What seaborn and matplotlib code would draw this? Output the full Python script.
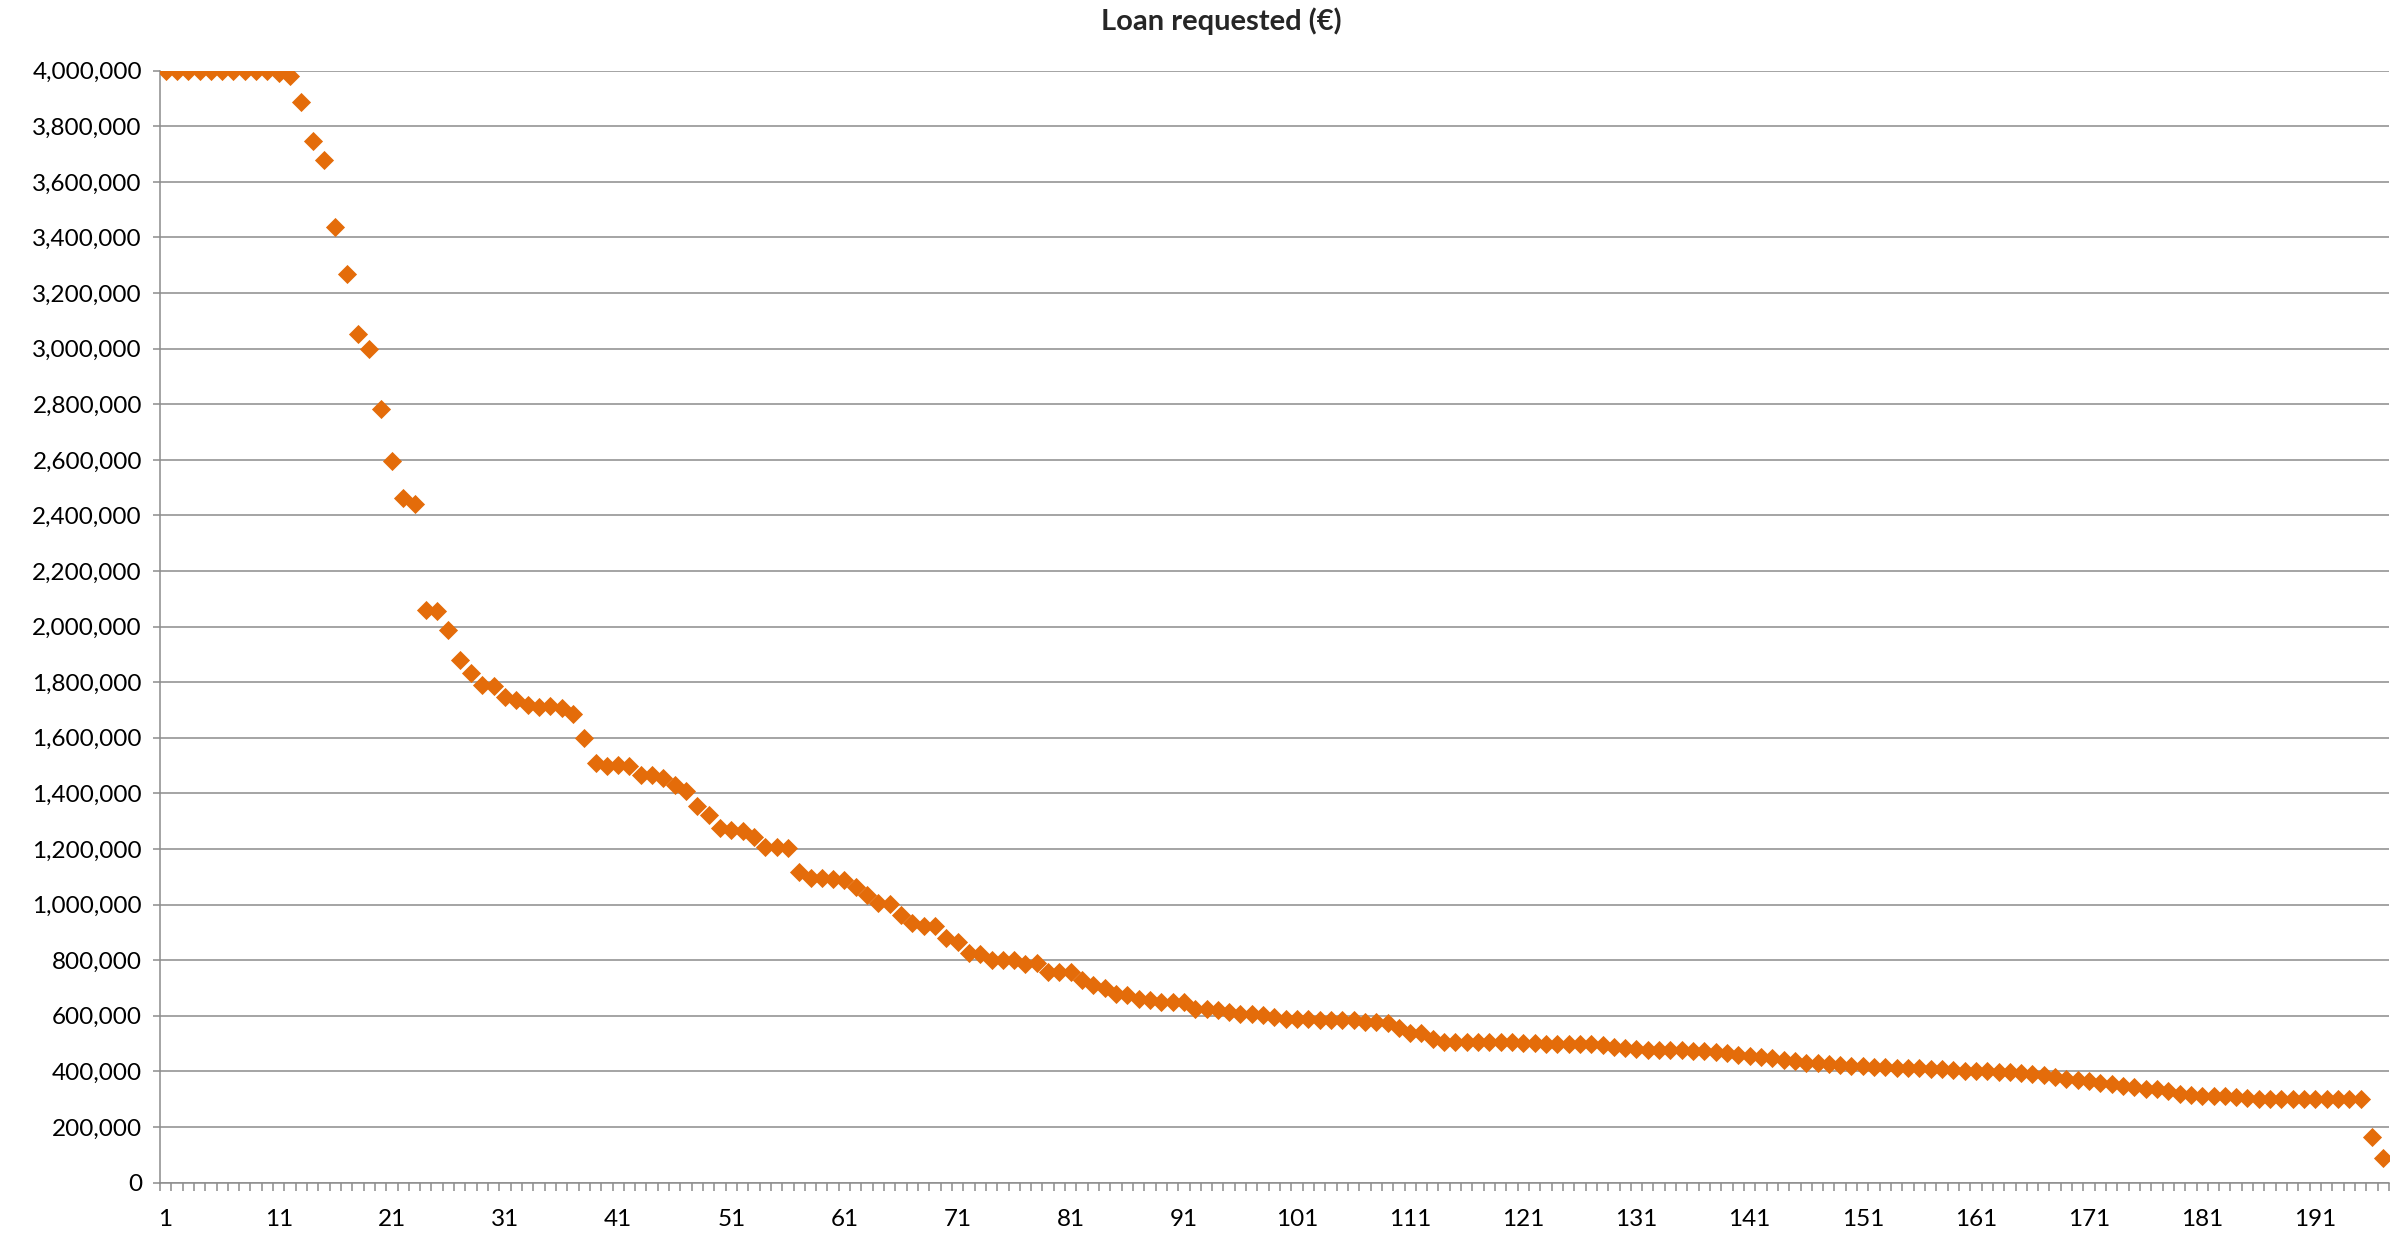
import matplotlib
matplotlib.use("Agg")
import pandas as pd
import matplotlib.pyplot as plt
import seaborn as sns
from matplotlib.ticker import FuncFormatter

# --- values (sorted loan requests, EUR) ---
loan_amount = [
    4000000, 4000000, 4000000, 4000000, 4000000, 4000000, 4000000, 4000000, 4000000, 4000000,
    3990000, 3982000, 3886000, 3747000, 3679000, 3438000, 3270000, 3054000, 3000000, 2782000,
    2597000, 2464000, 2441000, 2060000, 2056000, 1989000, 1881000, 1833000, 1789000, 1785000,
    1747000, 1735000, 1717000, 1711000, 1713000, 1708000, 1684000, 1601000, 1508000, 1499000,
    1501000, 1500000, 1468000, 1466000, 1454000, 1430000, 1410000, 1356000, 1322000, 1274000,
    1268000, 1265000, 1244000, 1208000, 1207000, 1202000, 1119000, 1095000, 1094000, 1093000,
    1089000, 1065000, 1033000, 1007000, 1001000, 963000, 933000, 924000, 923000, 879000,
    867000, 825000, 824000, 800000, 800000, 799000, 788000, 790000, 758000, 757000,
    757000, 728000, 710000, 700000, 680000, 676000, 662000, 656000, 650000, 650000,
    648000, 626000, 624000, 622000, 612000, 608000, 607000, 604000, 596000, 590000,
    588000, 587000, 585000, 585000, 585000, 584000, 579000, 576000, 575000, 557000,
    539000, 537000, 517000, 507000, 507000, 505000, 505000, 505000, 505000, 505000,
    502000, 501000, 500000, 500000, 498000, 498000, 497000, 495000, 489000, 483000,
    481000, 477000, 477000, 476000, 476000, 475000, 474000, 471000, 465000, 460000,
    457000, 452000, 448000, 440000, 436000, 431000, 430000, 428000, 424000, 419000,
    419000, 416000, 415000, 413000, 412000, 411000, 410000, 407000, 405000, 403000,
    402000, 400000, 398000, 397000, 395000, 392000, 388000, 380000, 374000, 368000,
    364000, 359000, 355000, 349000, 343000, 338000, 336000, 331000, 320000, 316000,
    313000, 312000, 310000, 308000, 304000, 302000, 301000, 300000, 300000, 300000,
    300000, 300000, 300000, 300000, 300000, 165000, 89000,
]
loan_rank = list(range(1, len(loan_amount) + 1))
x_tick_labels = [1, 11, 21, 31, 41, 51, 61, 71, 81, 91,
                 101, 111, 121, 131, 141, 151, 161, 171, 181, 191]
y_ticks = [0, 200000, 400000, 600000, 800000, 1000000, 1200000, 1400000,
           1600000, 1800000, 2000000, 2200000, 2400000, 2600000, 2800000,
           3000000, 3200000, 3400000, 3600000, 3800000, 4000000]

df = pd.DataFrame({"rank": loan_rank, "amount": loan_amount})

sns.set_style("white")
plt.rcParams["font.family"] = ["Lato", "DejaVu Sans"]

grid_grey = "#8c8c8c"
orange = "#E46C0A"

fig = plt.figure(figsize=(24.05, 12.4), dpi=100)
ax = fig.add_axes([0.0665, 0.0463, 0.9268, 0.8967])

sns.scatterplot(data=df, x="rank", y="amount", marker="D", s=95,
                color=orange, linewidth=0, legend=False, ax=ax, zorder=3)

ax.set_xlim(0.5, len(loan_amount) + 0.5)
ax.set_ylim(0, 4000000)
ax.set_yticks(y_ticks)
ax.yaxis.set_major_formatter(FuncFormatter(lambda v, p: f"{v:,.0f}"))
ax.set_xticks(x_tick_labels)
ax.set_xticklabels([str(v) for v in x_tick_labels])
ax.set_xticks([r - 0.5 for r in loan_rank] + [len(loan_amount) + 0.5], minor=True)

ax.yaxis.grid(True, color=grid_grey, linewidth=1.1)
ax.xaxis.grid(False)
ax.set_axisbelow(True)
for side in ["top", "right"]:
    ax.spines[side].set_visible(False)
for side in ["left", "bottom"]:
    ax.spines[side].set_color(grid_grey)
    ax.spines[side].set_linewidth(1.1)

ax.tick_params(axis="y", which="major", left=True, length=5, width=1.1,
               color=grid_grey, labelsize=17.5, pad=8, labelcolor="black")
ax.tick_params(axis="x", which="major", bottom=True, length=0,
               labelsize=17.5, pad=19, labelcolor="black")
ax.tick_params(axis="x", which="minor", bottom=True, length=6, width=1.1,
               color=grid_grey, direction="out")

ax.set_xlabel("")
ax.set_ylabel("")

fig.text(0.508, 0.983, "Loan requested (€)", ha="center", va="center",
         fontsize=21, fontweight="bold")

fig.savefig("out.png", dpi=100)
